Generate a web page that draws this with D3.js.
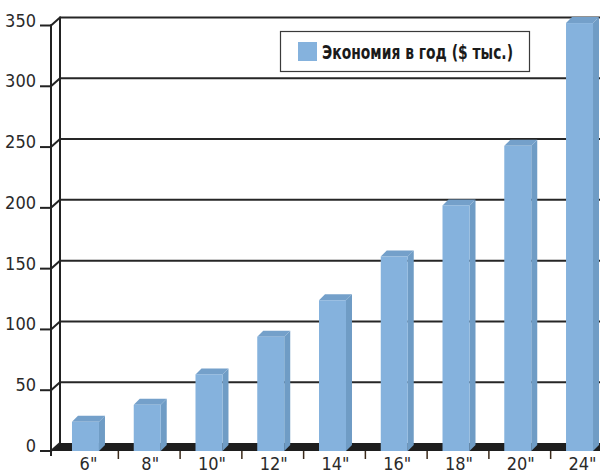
<!DOCTYPE html>
<html>
<head>
<meta charset="utf-8">
<script src="https://cdn.jsdelivr.net/npm/d3@7"></script>
<style>
  html, body { margin: 0; padding: 0; background: #fff; }
  svg { display: block; }
</style>
</head>
<body>
<svg id="chart" width="600" height="473"></svg>
<script>
// Pipe diameters and yearly savings (thousand $)
const categories = ['6"', '8"', '10"', '12"', '14"', '16"', '18"', '20"', '24"'];
const savings = [24, 38, 63, 94, 124, 160, 202, 251, 352];
const yTicks = [0, 50, 100, 150, 200, 250, 300, 350];
const seriesName = "Экономия в год ($ тыс.)";

const svg = d3.select("#chart");
const W = 600, H = 473;

// front plane of the 3D box, and the depth offset of the back wall
const axisX = 51;
const wallDX = 9, wallDY = 8;
const barDX = 6, barDY = 6;

const y = d3.scaleLinear().domain([0, 350]).range([451, 25.5]);
const x = d3.scaleBand().domain(categories)
  .range([54.6, 610.4]).paddingInner(0.563).paddingOuter(0.2815);

const numFont = "'DejaVu Sans Condensed', 'Liberation Sans Narrow', sans-serif";
const ink = "#222";

// back wall gridlines
svg.append("g").selectAll("line.grid")
  .data(yTicks.filter(d => d > 0))
  .join("line")
  .attr("x1", axisX + wallDX).attr("x2", W + 20)
  .attr("y1", d => y(d) - wallDY).attr("y2", d => y(d) - wallDY)
  .attr("stroke", "#262626").attr("stroke-width", 2);

// back wall left edge
svg.append("line")
  .attr("x1", axisX + wallDX).attr("x2", axisX + wallDX)
  .attr("y1", y(350) - wallDY - 1).attr("y2", y(0) - wallDY)
  .attr("stroke", ink).attr("stroke-width", 2);

// floor
svg.append("path")
  .attr("d", d3.line()([
    [axisX, y(0)], [axisX + wallDX, y(0) - wallDY],
    [W + 20, y(0) - wallDY], [W + 20, y(0)]
  ]) + "Z")
  .attr("fill", "#1e1e1e");

// side-wall connectors from the front axis to the back wall
svg.append("g").selectAll("line.conn")
  .data(yTicks)
  .join("line")
  .attr("x1", axisX).attr("x2", axisX + wallDX)
  .attr("y1", d => y(d)).attr("y2", d => y(d) - wallDY)
  .attr("stroke", ink).attr("stroke-width", 2);

// front vertical axis
svg.append("line")
  .attr("x1", axisX).attr("x2", axisX)
  .attr("y1", y(350) - 1).attr("y2", y(0) + 5)
  .attr("stroke", ink).attr("stroke-width", 2);

// y ticks and labels
const yAxis = svg.append("g");
yAxis.selectAll("line")
  .data(yTicks)
  .join("line")
  .attr("x1", 40).attr("x2", axisX)
  .attr("y1", d => y(d)).attr("y2", d => y(d))
  .attr("stroke", ink).attr("stroke-width", 2);
yAxis.selectAll("text")
  .data(yTicks)
  .join("text")
  .attr("x", 36).attr("y", d => y(d) + 1)
  .attr("text-anchor", "end")
  .attr("font-family", numFont).attr("font-size", 18)
  .attr("fill", "#2a2a2a")
  .text(d => d);

// bars: front face, side and top
const bars = svg.append("g").selectAll("g.bar")
  .data(categories.map((c, i) => ({ c, v: savings[i] })))
  .join("g");

bars.append("path")
  .attr("d", d => {
    const x0 = x(d.c) + x.bandwidth(), yt = y(d.v), yb = y(0);
    return d3.line()([[x0, yt], [x0 + barDX, yt - barDY], [x0 + barDX, yb - barDY], [x0, yb]]) + "Z";
  })
  .attr("fill", "#6f9cc5");

bars.append("path")
  .attr("d", d => {
    const x0 = x(d.c), x1 = x0 + x.bandwidth(), yt = y(d.v);
    return d3.line()([[x0, yt], [x0 + barDX, yt - barDY], [x1 + barDX, yt - barDY], [x1, yt]]) + "Z";
  })
  .attr("fill", "#74a0ca");

bars.append("rect")
  .attr("x", d => x(d.c))
  .attr("y", d => y(d.v))
  .attr("width", x.bandwidth())
  .attr("height", d => y(0) - y(d.v))
  .attr("fill", "#85b2dd");

// category ticks between the bars
const gap = x.step() - x.bandwidth();
svg.append("g").selectAll("line")
  .data(categories.slice(1))
  .join("line")
  .attr("x1", d => x(d) - gap / 2 + 2).attr("x2", d => x(d) - gap / 2 + 2)
  .attr("y1", y(0)).attr("y2", y(0) + 8)
  .attr("stroke", "#3b2a1a").attr("stroke-width", 1.5);

// category labels
svg.append("g").selectAll("text")
  .data(categories)
  .join("text")
  .attr("x", d => x(d) + x.bandwidth() / 2 + 3)
  .attr("y", 470)
  .attr("text-anchor", "middle")
  .attr("font-family", numFont).attr("font-size", 18)
  .attr("fill", "#2a2a2a")
  .text(d => d);

// legend
const legend = svg.append("g");
legend.append("rect")
  .attr("x", 280.5).attr("y", 31.5).attr("width", 249).attr("height", 40)
  .attr("fill", "#fff").attr("stroke", "#3a3a3a").attr("stroke-width", 1.2);
legend.append("rect")
  .attr("x", 298).attr("y", 42).attr("width", 19).attr("height", 19)
  .attr("fill", "#85b2dd");
legend.append("text")
  .attr("x", 322).attr("y", 59)
  .attr("font-family", numFont).attr("font-weight", "bold").attr("font-size", 19.5)
  .attr("fill", "#1a1a1a")
  .attr("textLength", 191).attr("lengthAdjust", "spacingAndGlyphs")
  .text(seriesName);
</script>
</body>
</html>
